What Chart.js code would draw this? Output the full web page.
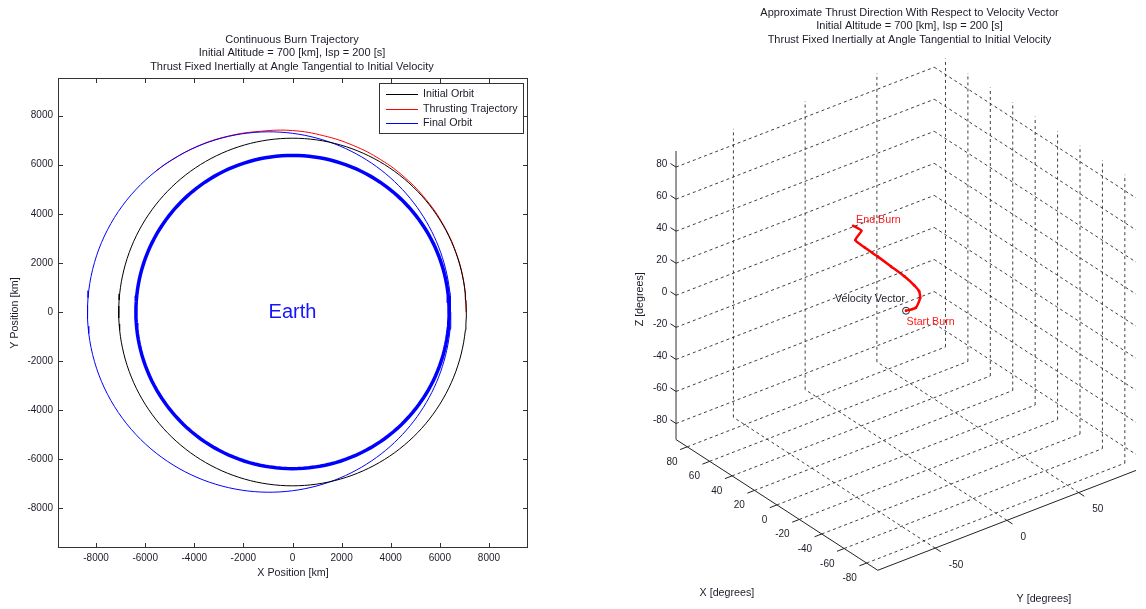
<!DOCTYPE html>
<html>
<head>
<meta charset="utf-8">
<script src="https://cdn.jsdelivr.net/npm/chart.js@4.4.1/dist/chart.umd.min.js"></script>
<style>
  html, body { margin: 0; padding: 0; background: #fff; }
  #wrap { position: relative; width: 1146px; height: 609px; overflow: hidden; }
  canvas { position: absolute; top: 0; }
  #orbitChart { left: 0; z-index: 0; }
  #thrustChart { left: 573px; z-index: 1; }
</style>
</head>
<body>
<div id="wrap">
  <canvas id="orbitChart" width="584" height="609"></canvas>
  <canvas id="thrustChart" width="573" height="609"></canvas>
</div>
<script>
const FONT = "'Liberation Sans', Arial, Helvetica, sans-serif";
const INK = '#1c1c28';

// ---------- left plot: trajectory in km ----------
const orbitTitle = [
    'Continuous Burn Trajectory',
    'Initial Altitude = 700 [km], Isp = 200 [s]',
    'Thrust Fixed Inertially at Angle Tangential to Initial Velocity'
];
const posTicks = [-8000, -6000, -4000, -2000, 0, 2000, 4000, 6000, 8000];
const earthRadius = 6378;
const initialRadius = 7078;
const finalPeriapsis = 6450;
const finalApoapsis = 8350;
// thrusting arc, read as radius at polar angle
const burnAngles = [0, 10, 20, 30, 40, 50, 60, 70, 80, 90, 100, 110, 120, 130, 134];
const burnRadii = [7078, 7080, 7085, 7095, 7110, 7135, 7170, 7220, 7290, 7390, 7475, 7625, 7785, 7932, 7991];

// ---------- right plot: thrust direction in degrees ----------
const thrustTitle = [
    'Approximate Thrust Direction With Respect to Velocity Vector',
    'Initial Altitude = 700 [km], Isp = 200 [s]',
    'Thrust Fixed Inertially at Angle Tangential to Initial Velocity'
];
const angleLimits = [-90, 90];
const xAngleTicks = [-80, -60, -40, -20, 0, 20, 40, 60, 80];
const yAngleTicks = [-50, 0, 50];
const zAngleTicks = [-80, -60, -40, -20, 0, 20, 40, 60, 80];
const burnDirX = [0, 0, 0, 0, 0, 0, 0, 0, 0, 0, 0, 0];
const burnDirY = [0, 6.8, 9.8, 9.1, 5.7, -1.2, -10.5, -19.7, -28.8, -35.3, -31.2, -36.9];
const burnDirZ = [0, -0.5, 4.6, 9.0, 13.9, 21.9, 31.3, 40.6, 49.4, 56.3, 60.7, 65.8];
const velocityVector = [0, 0, 0];

const lineColors = {
    'Earth': '#0000ff',
    'Initial Orbit': '#000000',
    'Thrusting Trajectory': '#ff0000',
    'Final Orbit': '#0000ff'
};

// 円・楕円を点列にする
function ring(radiusAt) {
    const pts = [];
    for (let a = 0; a <= 360; a += 2) {
        const t = a * Math.PI / 180;
        const r = radiusAt(t);
        pts.push({ x: r * Math.cos(t), y: r * Math.sin(t) });
    }
    return pts;
}

const semiMajor = (finalPeriapsis + finalApoapsis) / 2;
const ecc = (finalApoapsis - finalPeriapsis) / (finalApoapsis + finalPeriapsis);
const semiLatus = semiMajor * (1 - ecc * ecc);

const earthPts = ring(() => earthRadius);
const initialPts = ring(() => initialRadius);
const finalPts = ring(t => semiLatus / (1 + ecc * Math.cos(t)));
const burnPts = burnAngles.map((a, i) => {
    const t = a * Math.PI / 180;
    return { x: burnRadii[i] * Math.cos(t), y: burnRadii[i] * Math.sin(t) };
});

const legendOrder = ['Initial Orbit', 'Thrusting Trajectory', 'Final Orbit'];

const orbitDecor = {
    id: 'orbitDecor',
    afterDraw(chart) {
        const { ctx, chartArea: a, scales } = chart;
        ctx.save();
        // 枠と内向きの目盛り
        ctx.strokeStyle = '#333';
        ctx.lineWidth = 1;
        ctx.strokeRect(a.left + 0.5, a.top + 0.5, a.right - a.left - 1, a.bottom - a.top - 1);
        ctx.beginPath();
        posTicks.forEach(v => {
            const px = Math.round(scales.x.getPixelForValue(v)) + 0.5;
            ctx.moveTo(px, a.bottom); ctx.lineTo(px, a.bottom - 5);
            ctx.moveTo(px, a.top); ctx.lineTo(px, a.top + 5);
            const py = Math.round(scales.y.getPixelForValue(v)) + 0.5;
            ctx.moveTo(a.left, py); ctx.lineTo(a.left + 5, py);
            ctx.moveTo(a.right, py); ctx.lineTo(a.right - 5, py);
        });
        ctx.stroke();

        // Earth
        ctx.fillStyle = '#1414ff';
        ctx.font = '20px ' + FONT;
        ctx.textAlign = 'center';
        ctx.textBaseline = 'middle';
        ctx.fillText('Earth', scales.x.getPixelForValue(0), scales.y.getPixelForValue(0));

        // 凡例
        const w = 144, h = 50;
        const lx = a.right - 5 - w, ly = a.top + 5;
        ctx.fillStyle = '#fff';
        ctx.fillRect(lx, ly, w, h);
        ctx.strokeStyle = '#333';
        ctx.strokeRect(lx + 0.5, ly + 0.5, w, h);
        ctx.font = '10.7px ' + FONT;
        ctx.textAlign = 'left';
        legendOrder.forEach((name, i) => {
            const y = ly + 11 + i * 14.7;
            ctx.beginPath();
            ctx.strokeStyle = lineColors[name];
            ctx.lineWidth = 1;
            ctx.moveTo(lx + 7, Math.round(y) + 0.5);
            ctx.lineTo(lx + 39, Math.round(y) + 0.5);
            ctx.stroke();
            ctx.fillStyle = INK;
            ctx.fillText(name, lx + 44, y);
        });
        ctx.restore();
    }
};

const tickFont = { family: FONT, size: 10 };
const labelFont = { family: FONT, size: 10.7, weight: 'normal' };
const titleFont = { family: FONT, size: 11, weight: 'normal', lineHeight: '13.5px' };

new Chart(document.getElementById('orbitChart'), {
    type: 'scatter',
    data: {
        datasets: [
            { label: 'Earth', data: earthPts, borderWidth: 3.5 },
            { label: 'Initial Orbit', data: initialPts, borderWidth: 1 },
            { label: 'Final Orbit', data: finalPts, borderWidth: 1 },
            { label: 'Thrusting Trajectory', data: burnPts, borderWidth: 1, tension: 0.4 }
        ].map(d => Object.assign({ showLine: true, pointRadius: 0, fill: false, borderColor: lineColors[d.label] }, d))
    },
    options: {
        responsive: false,
        animation: false,
        events: [],
        layout: { padding: 0 },
        plugins: {
            legend: { display: false },
            tooltip: { enabled: false },
            title: {
                display: true,
                text: orbitTitle,
                color: INK,
                font: titleFont,
                padding: { top: 33, bottom: 4.5 }
            }
        },
        scales: {
            x: {
                type: 'linear',
                position: 'bottom',
                min: -9550, max: 9590,
                grid: { display: false, drawTicks: false },
                border: { display: false },
                ticks: { font: tickFont, color: INK, padding: 4, maxRotation: 0, autoSkip: false, callback: v => String(v) },
                title: { display: true, text: 'X Position [km]', color: INK, font: labelFont, padding: { top: 0, bottom: 30 } },
                afterBuildTicks: s => { s.ticks = posTicks.map(v => ({ value: v })); },
                afterFit: s => { s.height = 61; }
            },
            y: {
                type: 'linear',
                position: 'left',
                min: -9610, max: 9530,
                grid: { display: false, drawTicks: false },
                border: { display: false },
                ticks: { font: tickFont, color: INK, padding: 5, autoSkip: false, callback: v => String(v) },
                title: { display: true, text: 'Y Position [km]', color: INK, font: labelFont, padding: { top: 8.6, bottom: 0 } },
                afterBuildTicks: s => { s.ticks = posTicks.map(v => ({ value: v })); },
                afterFit: s => { s.width = 58; }
            },
            // 右側の空き(タイトルを中央に置くため)
            yPad: {
                type: 'linear',
                position: 'right',
                display: true,
                grid: { display: false, drawTicks: false },
                border: { display: false },
                ticks: { display: false },
                afterFit: s => { s.width = 56; }
            }
        }
    },
    plugins: [orbitDecor]
});

// ---------- 3D view (MATLAB風の正射影) ----------
const view = { origin: [880, 575], ex: [-1.133, -0.733], ey: [1.45, -0.56], ez: [0, -1.617] };
function project(x, y, z) {
    const lo = angleLimits[0];
    const dx = x - lo, dy = y - lo, dz = z - lo;
    return {
        x: view.origin[0] + dx * view.ex[0] + dy * view.ey[0] + dz * view.ez[0],
        y: view.origin[1] + dx * view.ex[1] + dy * view.ey[1] + dz * view.ez[1]
    };
}
function segments(list) {
    const out = [];
    list.forEach(([p, q]) => {
        out.push(project(...p), project(...q), { x: null, y: null });
    });
    return out;
}

const lo = angleLimits[0], hi = angleLimits[1];
const tk = 5;
const gridSegs = [];
zAngleTicks.forEach(z => {
    gridSegs.push([[hi, lo, z], [hi, hi, z]]);
    gridSegs.push([[hi, hi, z], [lo, hi, z]]);
});
yAngleTicks.forEach(y => {
    gridSegs.push([[hi, y, lo], [hi, y, hi]]);
    gridSegs.push([[lo, y, lo], [hi, y, lo]]);
});
xAngleTicks.forEach(x => {
    gridSegs.push([[x, hi, lo], [x, hi, hi]]);
    gridSegs.push([[x, lo, lo], [x, hi, lo]]);
});
const tickSegs = [];
zAngleTicks.forEach(z => tickSegs.push([[hi, lo, z], [hi + tk, lo, z]]));
xAngleTicks.forEach(x => tickSegs.push([[x, lo, lo], [x, lo - tk, lo]]));
yAngleTicks.forEach(y => tickSegs.push([[lo, y, lo], [lo - tk, y, lo]]));

const burnPath = burnDirX.map((x, i) => project(x, burnDirY[i], burnDirZ[i]));

const thrustDecor = {
    id: 'thrustDecor',
    afterDraw(chart) {
        const { ctx, scales } = chart;
        const px = p => ({ x: scales.x.getPixelForValue(p.x), y: scales.y.getPixelForValue(p.y) });
        ctx.save();
        ctx.fillStyle = INK;
        ctx.font = '10px ' + FONT;
        ctx.textBaseline = 'middle';
        ctx.textAlign = 'right';
        zAngleTicks.forEach(z => {
            const p = px(project(hi + tk, lo, z));
            ctx.fillText(String(z), p.x - 3, p.y + 0.5);
        });
        xAngleTicks.forEach(x => {
            const p = px(project(x, lo - tk, lo));
            ctx.fillText(String(x), p.x - 2.5, p.y + 12.5);
        });
        ctx.textAlign = 'left';
        yAngleTicks.forEach(y => {
            const p = px(project(lo - tk, y, lo));
            ctx.fillText(String(y), p.x + 8, p.y + 13.5);
        });

        ctx.font = '10.7px ' + FONT;
        ctx.textAlign = 'center';
        let p = px(project(0, lo, lo));
        ctx.fillText('X [degrees]', p.x - 50, p.y + 88);
        p = px(project(lo, 0, lo));
        ctx.fillText('Y [degrees]', p.x + 37, p.y + 79);
        p = px(project(hi, lo, 0));
        ctx.save();
        ctx.translate(p.x - 36, p.y + 4);
        ctx.rotate(-Math.PI / 2);
        ctx.fillText('Z [degrees]', 0, 0);
        ctx.restore();

        // 注記
        const v = px(project(...velocityVector));
        ctx.textAlign = 'right';
        ctx.fillStyle = INK;
        ctx.fillText('Velocity Vector', v.x - 1, v.y - 12);
        ctx.textAlign = 'left';
        ctx.fillStyle = '#ff1a1a';
        const s = px(burnPath[0]);
        ctx.fillText('Start Burn', s.x + 0.5, s.y + 11);
        const e = px(burnPath[burnPath.length - 1]);
        ctx.fillText('End Burn', e.x + 3, e.y - 6);
        ctx.restore();
    }
};

new Chart(document.getElementById('thrustChart'), {
    type: 'scatter',
    data: {
        datasets: [
            { label: 'grid', data: segments(gridSegs), borderColor: '#2a2a2a', borderWidth: 0.9, borderDash: [3, 3] },
            { label: 'ticks', data: segments(tickSegs), borderColor: '#222', borderWidth: 1 },
            { label: 'xy axes', data: segments([[[hi, lo, lo], [lo, lo, lo]], [[lo, lo, lo], [lo, hi, lo]]]), borderColor: '#222', borderWidth: 1 },
            { label: 'z axis', data: segments([[[hi, lo, lo], [hi, lo, hi]]]), borderColor: '#777', borderWidth: 1.5 },
            { label: 'thrust', data: burnPath, borderColor: '#ff0000', borderWidth: 2.5, tension: 0.2,
              pointRadius: 1.4, pointBackgroundColor: '#ff0000', pointBorderWidth: 0 },
            { label: 'velocity', data: [project(...velocityVector)], showLine: false, pointRadius: 3.5,
              pointBorderColor: '#222', pointBackgroundColor: 'rgba(0,0,0,0)', pointBorderWidth: 1 }
        ].map(d => Object.assign({ showLine: true, pointRadius: 0, spanGaps: false, fill: false, clip: false }, d))
    },
    options: {
        responsive: false,
        animation: false,
        events: [],
        layout: { padding: { left: 100, right: 0, top: 0, bottom: 0 } },
        plugins: {
            legend: { display: false },
            tooltip: { enabled: false },
            title: {
                display: true,
                text: thrustTitle,
                color: INK,
                font: titleFont,
                padding: { top: 5.75, bottom: 3.75 }
            }
        },
        scales: {
            x: { type: 'linear', display: false, min: 673, max: 1146 },
            y: { type: 'linear', display: false, min: 50, max: 609, reverse: true }
        }
    },
    plugins: [thrustDecor]
});
</script>
</body>
</html>
